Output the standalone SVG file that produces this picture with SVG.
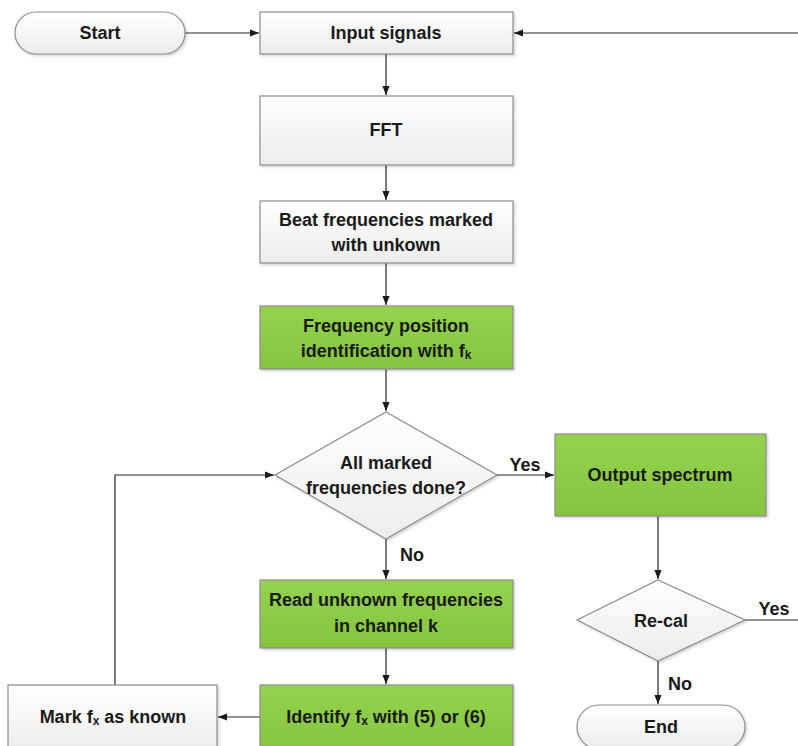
<svg xmlns="http://www.w3.org/2000/svg" width="798" height="746" viewBox="0 0 798 746">
<defs>
<linearGradient id="gw" x1="0" y1="0" x2="0" y2="1"><stop offset="0" stop-color="#ffffff"/><stop offset="1" stop-color="#ececec"/></linearGradient>
<linearGradient id="gg" x1="0" y1="0" x2="0" y2="1"><stop offset="0" stop-color="#94d34e"/><stop offset="1" stop-color="#85c440"/></linearGradient>
<filter id="sh" x="-5%" y="-5%" width="112%" height="115%"><feDropShadow dx="1.5" dy="1.5" stdDeviation="1" flood-color="#000" flood-opacity="0.18"/></filter>
<marker id="ar" viewBox="0 0 10 10" refX="10" refY="5" markerWidth="9" markerHeight="9" markerUnits="userSpaceOnUse" orient="auto"><path d="M0,1 L10,5 L0,9 z" fill="#1a1a1a"/></marker>
</defs>
<style>
.w{fill:url(#gw);stroke:#8c8c8c;stroke-width:1.2;filter:url(#sh)}
.g{fill:url(#gg);stroke:#8c8c8c;stroke-width:1.2;filter:url(#sh)}
.t{font-family:"Liberation Sans",Arial,sans-serif;font-weight:bold;font-size:18px;fill:#1a1a1a;text-anchor:middle;dominant-baseline:central}
.s{font-size:12px}
.c{fill:none;stroke:#262626;stroke-width:1.2}
.a{marker-end:url(#ar)}
</style>
<rect width="798" height="746" fill="#ffffff"/>
<g id="connectors">
<path class="c a" d="M185,33 H259"/>
<path class="c a" d="M798,33 H514"/>
<path class="c a" d="M386,54 V95"/>
<path class="c a" d="M386,165 V200"/>
<path class="c a" d="M386,263 V305"/>
<path class="c a" d="M386,369 V411"/>
<path class="c a" d="M497,475 H554"/>
<path class="c a" d="M386,539 V579"/>
<path class="c a" d="M386,648 V684"/>
<path class="c a" d="M260,717 H218"/>
<path class="c a" d="M115,685 V475 H274"/>
<path class="c a" d="M658,516 V579"/>
<path class="c" d="M745,620 H798"/>
<path class="c a" d="M658,661 V704"/>
<text class="t" x="525" y="465">Yes</text>
<text class="t" x="412" y="555">No</text>
<text class="t" x="774" y="609">Yes</text>
<text class="t" x="680" y="684">No</text>
</g>
<g id="start"><rect class="w" x="15" y="12" width="170" height="42" rx="21"/><text class="t" x="100" y="33">Start</text></g>
<g id="input"><rect class="w" x="260" y="12" width="253" height="42"/><text class="t" x="386" y="33">Input signals</text></g>
<g id="fft"><rect class="w" x="260" y="96" width="253" height="69"/><text class="t" x="386" y="130">FFT</text></g>
<g id="beat"><rect class="w" x="260" y="201" width="253" height="62"/><text class="t" x="386" y="220">Beat frequencies marked</text><text class="t" x="386" y="245">with unkown</text></g>
<g id="freqpos"><rect class="g" x="260" y="306" width="253" height="63"/><text class="t" x="386" y="326">Frequency position</text><text class="t" x="386" y="351">identification with f<tspan class="s" dy="4">k</tspan></text></g>
<g id="decision"><polygon class="w" points="386,412 497,475 386,539 275,475"/><text class="t" x="386" y="463">All marked</text><text class="t" x="386" y="488">frequencies done?</text></g>
<g id="output"><rect class="g" x="555" y="434" width="211" height="82"/><text class="t" x="660" y="475">Output spectrum</text></g>
<g id="read"><rect class="g" x="260" y="580" width="253" height="68"/><text class="t" x="386" y="600">Read unknown frequencies</text><text class="t" x="386" y="626">in channel k</text></g>
<g id="identify"><rect class="g" x="260" y="685" width="253" height="66"/><text class="t" x="386" y="717">Identify f<tspan class="s" dy="4">x</tspan><tspan dy="-4"> with (5) or (6)</tspan></text></g>
<g id="mark"><rect class="w" x="8" y="685" width="209" height="66"/><text class="t" x="113" y="717">Mark f<tspan class="s" dy="4">x</tspan><tspan dy="-4"> as known</tspan></text></g>
<g id="recal"><polygon class="w" points="658,580 745,620 658,661 577,620"/><text class="t" x="661" y="621">Re-cal</text></g>
<g id="end"><rect class="w" x="577" y="705" width="168" height="44" rx="22"/><text class="t" x="661" y="727">End</text></g>
</svg>
